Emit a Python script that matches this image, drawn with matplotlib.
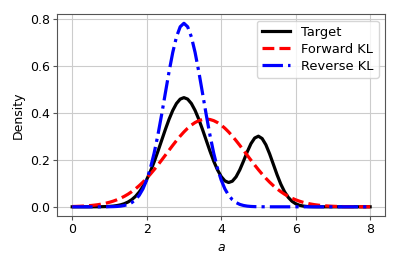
import numpy as np
import matplotlib
matplotlib.use("Agg")
import matplotlib.pyplot as plt

# values, x step 0.1 from 0 to 8
a_vals = np.round(np.arange(0, 81) * 0.1, 1)

target = [
    0.0000, 0.0000, 0.0000, 0.0000, 0.0000, 0.0001, 0.0002, 0.0003, 0.0006, 0.0010,
    0.0018, 0.0031, 0.0052, 0.0084, 0.0133, 0.0205, 0.0306, 0.0445, 0.0630, 0.0867,
    0.1160, 0.1511, 0.1913, 0.2357, 0.2823, 0.3289, 0.3727, 0.4107, 0.4403, 0.4590,
    0.4654, 0.4590, 0.4403, 0.4107, 0.3728, 0.3292, 0.2830, 0.2372, 0.1946, 0.1579,
    0.1291, 0.1105, 0.1035, 0.1092, 0.1277, 0.1575, 0.1948, 0.2342, 0.2692, 0.2931,
    0.3010, 0.2910, 0.2646, 0.2261, 0.1817, 0.1371, 0.0971, 0.0647, 0.0405, 0.0238,
    0.0131, 0.0068, 0.0033, 0.0015, 0.0007, 0.0003, 0.0001, 0.0000, 0.0000, 0.0000,
    0.0000, 0.0000, 0.0000, 0.0000, 0.0000, 0.0000, 0.0000, 0.0000, 0.0000, 0.0000,
    0.0000,
]

forward_kl = [
    0.0013, 0.0017, 0.0023, 0.0031, 0.0042, 0.0055, 0.0072, 0.0093, 0.0120, 0.0153,
    0.0193, 0.0241, 0.0299, 0.0367, 0.0447, 0.0540, 0.0647, 0.0767, 0.0902, 0.1052,
    0.1216, 0.1393, 0.1582, 0.1781, 0.1987, 0.2198, 0.2410, 0.2620, 0.2822, 0.3014,
    0.3191, 0.3349, 0.3484, 0.3592, 0.3672, 0.3721, 0.3737, 0.3721, 0.3672, 0.3592,
    0.3484, 0.3349, 0.3191, 0.3014, 0.2822, 0.2620, 0.2410, 0.2198, 0.1987, 0.1781,
    0.1582, 0.1393, 0.1216, 0.1052, 0.0902, 0.0767, 0.0647, 0.0540, 0.0447, 0.0367,
    0.0299, 0.0241, 0.0193, 0.0153, 0.0120, 0.0093, 0.0072, 0.0055, 0.0042, 0.0031,
    0.0023, 0.0017, 0.0013, 0.0009, 0.0007, 0.0005, 0.0003, 0.0002, 0.0002, 0.0001,
    0.0001,
]

reverse_kl = [
    0.0000, 0.0000, 0.0000, 0.0000, 0.0000, 0.0000, 0.0000, 0.0000, 0.0001, 0.0002,
    0.0004, 0.0008, 0.0015, 0.0030, 0.0057, 0.0103, 0.0181, 0.0304, 0.0491, 0.0764,
    0.1144, 0.1648, 0.2286, 0.3050, 0.3915, 0.4837, 0.5751, 0.6579, 0.7243, 0.7673,
    0.7822, 0.7673, 0.7243, 0.6579, 0.5751, 0.4837, 0.3915, 0.3050, 0.2286, 0.1648,
    0.1144, 0.0764, 0.0491, 0.0304, 0.0181, 0.0103, 0.0057, 0.0030, 0.0015, 0.0008,
    0.0004, 0.0002, 0.0001, 0.0000, 0.0000, 0.0000, 0.0000, 0.0000, 0.0000, 0.0000,
    0.0000, 0.0000, 0.0000, 0.0000, 0.0000, 0.0000, 0.0000, 0.0000, 0.0000, 0.0000,
    0.0000, 0.0000, 0.0000, 0.0000, 0.0000, 0.0000, 0.0000, 0.0000, 0.0000, 0.0000,
    0.0000,
]

fig = plt.figure(figsize=(3.99, 2.66), dpi=100)
ax = fig.add_axes([0.1436, 0.188, 0.8214, 0.759])

ax.plot(a_vals, target, color="black", lw=2.3, label="Target")
ax.plot(a_vals, forward_kl, color="red", lw=2.3, ls="--", label="Forward KL")
ax.plot(a_vals, reverse_kl, color="blue", lw=2.3, ls="-.", label="Reverse KL")

ax.grid(True, color="#cccccc", lw=0.8)
ax.set_axisbelow(True)
ax.set_xticks([0, 2, 4, 6, 8])
ax.set_yticks([0.0, 0.2, 0.4, 0.6, 0.8])
ax.tick_params(labelsize=9, length=2.8, pad=2.5, color="#555555")
for s in ax.spines.values():
    s.set_color("#555555")
ax.set_xlabel("$a$", fontsize=9, labelpad=3)
ax.set_ylabel("Density", fontsize=9, labelpad=4)
ax.legend(loc="upper right", fontsize=9.4, labelspacing=0.3,
          borderaxespad=0.5, handlelength=2.2)

fig.savefig("out.png", dpi=100)
